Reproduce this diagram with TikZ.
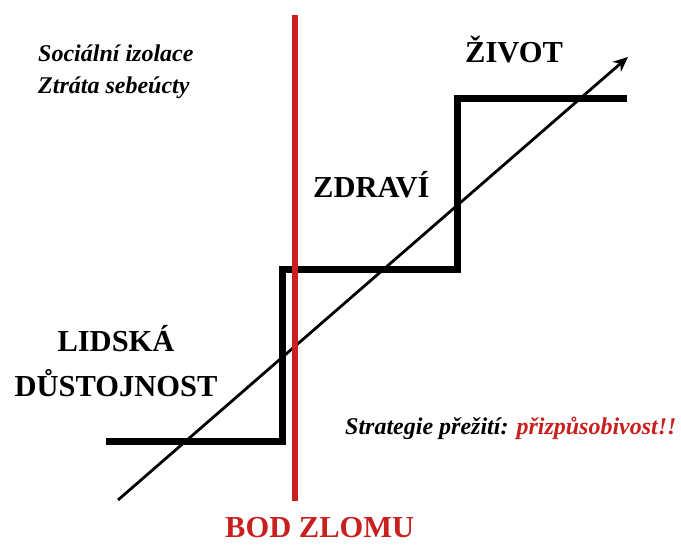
\documentclass[tikz,border=0pt]{standalone}
\usepackage{fontspec}
\setmainfont{Liberation Serif}
\usepackage{xcolor}
\usetikzlibrary{arrows.meta}
\definecolor{zlomred}{RGB}{200,32,30}

\begin{document}
\begin{tikzpicture}[x=1pt, y=-1pt, >={Stealth[length=15pt, width=13pt]},
    heading/.style={font=\fontsize{30.5}{36}\selectfont\bfseries, inner sep=0pt},
    note/.style={font=\fontsize{24}{30}\selectfont\bfseries\itshape, inner sep=0pt}]
    \useasboundingbox (0,0) rectangle (681,545);

    % Steps
    \coordinate (S0) at (106,442);
    \coordinate (S1) at (282,442);
    \coordinate (S2) at (282,270);
    \coordinate (S3) at (457,270);
    \coordinate (S4) at (457,99);
    \coordinate (S5) at (627,99);
    \draw[line width=7pt] (S0) -- (S1) -- (S2) -- (S3) -- (S4) -- (S5);

    % Trend
    \coordinate (A0) at (118,500);
    \coordinate (A1) at (628,57);
    \draw[->, line width=2.8pt] (A0) -- (A1);

    % Breaking point
    \coordinate (Z0) at (295,15);
    \coordinate (Z1) at (295,501);
    \draw[zlomred, line width=6pt] (Z0) -- (Z1);

    % Labels
    \node[note, anchor=base west] (social) at (38,62) {Sociální izolace};
    \node[note, anchor=base west] (respect) at (38,94) {Ztráta sebeúcty};
    \node[heading, anchor=base west] (life) at (465,63) {ŽIVOT};
    \node[heading, anchor=base west] (health) at (313,198) {ZDRAVÍ};
    \node[heading, anchor=base] (human) at (116,352) {LIDSKÁ};
    \node[heading, anchor=base] (dignity) at (116,397) {DŮSTOJNOST};
    \node[note, anchor=base west] (strategy) at (345,435) {Strategie přežití: {\color{zlomred}přizpůsobivost!!}};
    \node[heading, anchor=base west, text=zlomred] (bod) at (225,538) {BOD ZLOMU};
\end{tikzpicture}
\end{document}
